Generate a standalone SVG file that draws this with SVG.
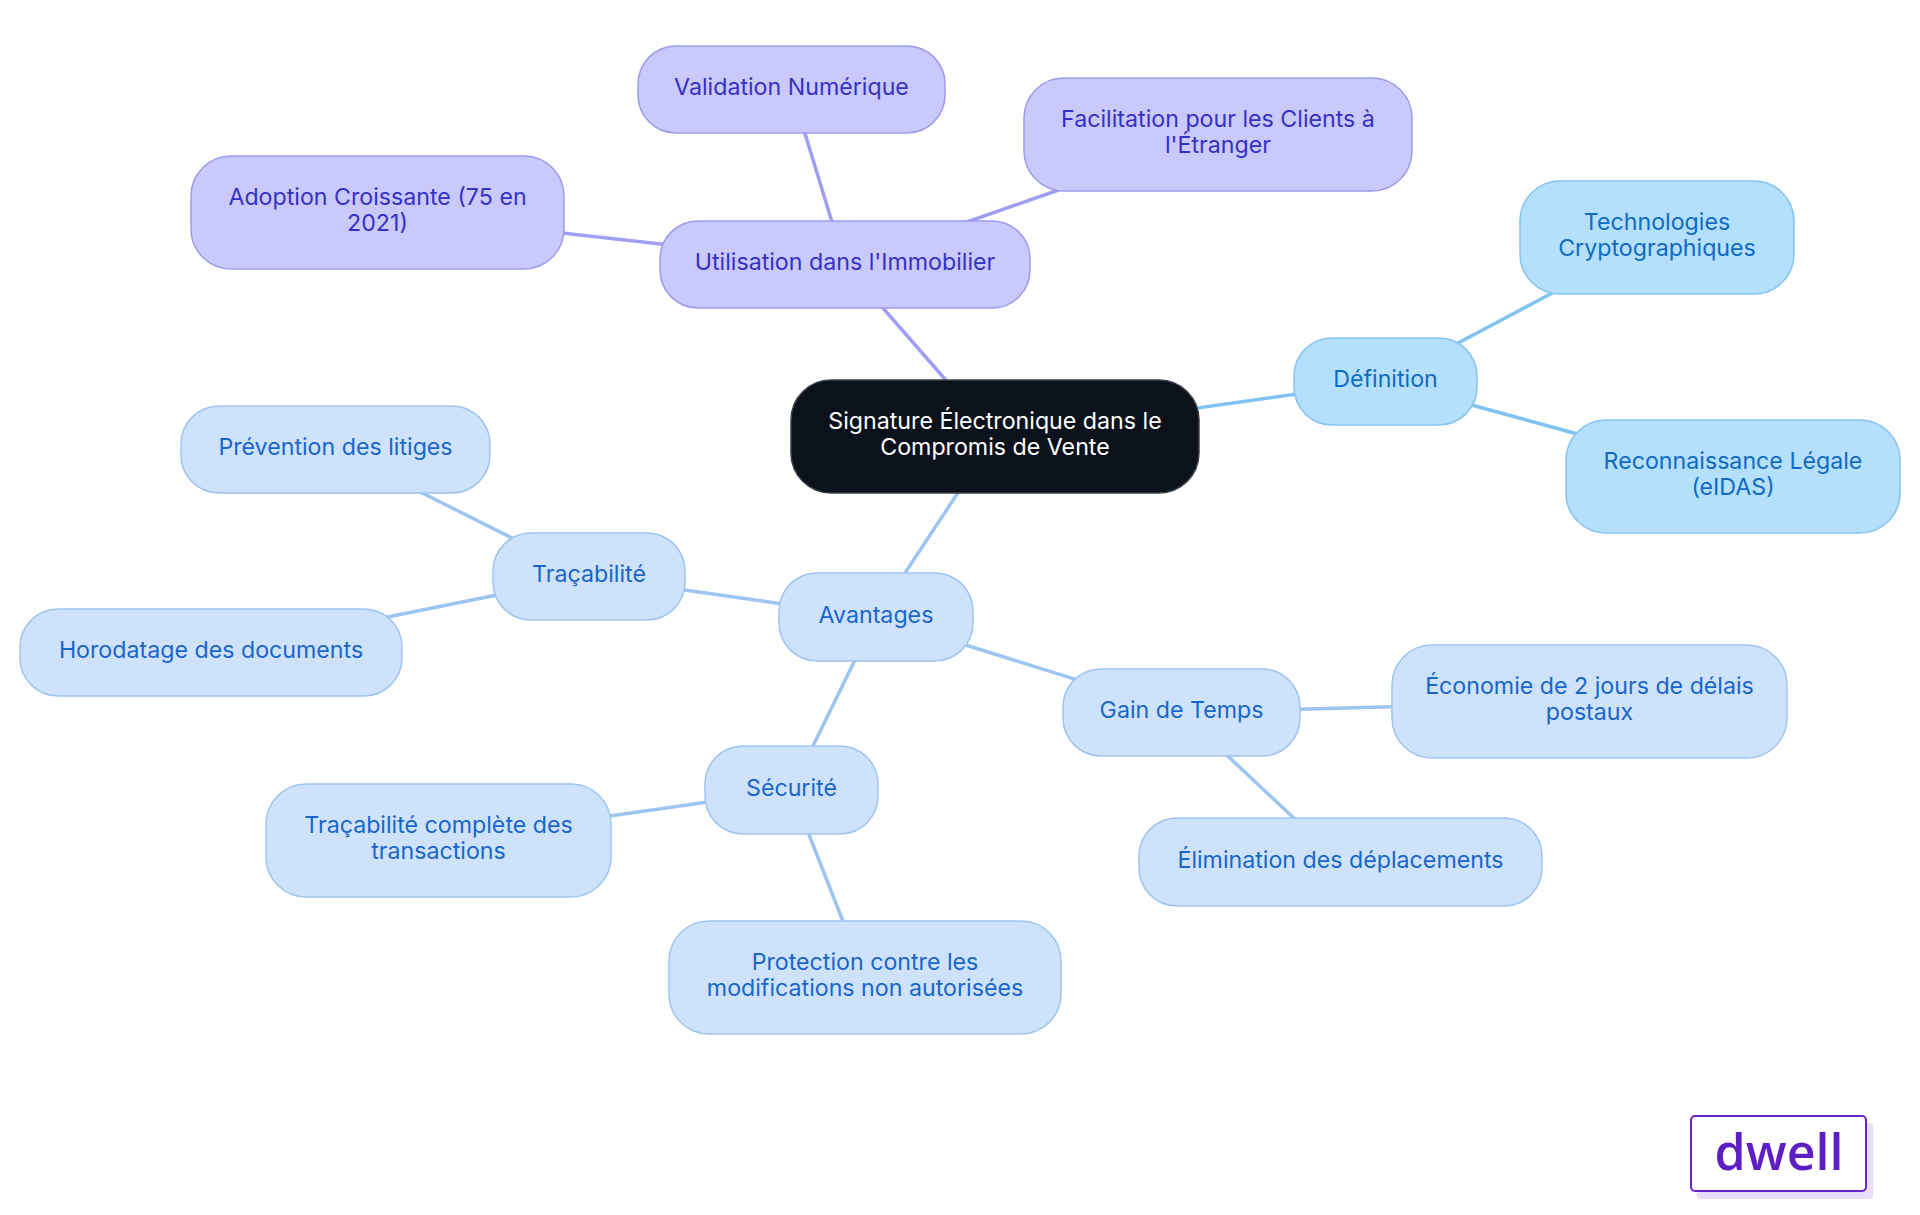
<svg xmlns="http://www.w3.org/2000/svg" width="1920" height="1215" viewBox="0 0 1920 1215">
<style>
text{font-family:Inter,"Liberation Sans",sans-serif;font-size:23.2px;text-anchor:middle}
.e1{stroke:#a19df2;stroke-width:3.5;fill:none;stroke-linecap:round}
.e2{stroke:#80c3f1;stroke-width:3.5;fill:none;stroke-linecap:round}
.e3{stroke:#9cc5f1;stroke-width:3.5;fill:none;stroke-linecap:round}
.root rect{fill:#0c121b;stroke:#3b4049;stroke-width:1.5}
.root text{fill:#ffffff}
.p rect{fill:#c9c9fc;stroke:#9e9bef;stroke-width:1.5}
.p text{fill:#3631c6}
.b rect{fill:#b4dffd;stroke:#84c4f1;stroke-width:1.5}
.b text{fill:#0f6bc4}
.a rect{fill:#cee3fb;stroke:#9ec5f1;stroke-width:1.5}
.a text{fill:#1966cc}
</style>
<rect width="1920" height="1215" fill="#ffffff"/>
<g id="connectors">
<line class="e1" x1="995" y1="436.5" x2="845" y2="264.5"/>
<line class="e1" x1="845" y1="264.5" x2="791.5" y2="89.5"/>
<line class="e1" x1="845" y1="264.5" x2="1218" y2="134.5"/>
<line class="e1" x1="845" y1="264.5" x2="377.5" y2="212.5"/>
<line class="e2" x1="995" y1="436.5" x2="1385.5" y2="381.5"/>
<line class="e2" x1="1385.5" y1="381.5" x2="1657" y2="237.5"/>
<line class="e2" x1="1385.5" y1="381.5" x2="1733" y2="476.5"/>
<line class="e3" x1="995" y1="436.5" x2="876" y2="617"/>
<line class="e3" x1="876" y1="617" x2="589" y2="576.5"/>
<line class="e3" x1="589" y1="576.5" x2="335.5" y2="449.5"/>
<line class="e3" x1="589" y1="576.5" x2="211" y2="652.5"/>
<line class="e3" x1="876" y1="617" x2="791.5" y2="790"/>
<line class="e3" x1="791.5" y1="790" x2="438.5" y2="840.5"/>
<line class="e3" x1="791.5" y1="790" x2="865" y2="977.5"/>
<line class="e3" x1="876" y1="617" x2="1181.5" y2="712.5"/>
<line class="e3" x1="1181.5" y1="712.5" x2="1589.5" y2="701.5"/>
<line class="e3" x1="1181.5" y1="712.5" x2="1340.5" y2="862"/>
</g>
<g id="root" class="root">
<rect x="791" y="380" width="408" height="113" rx="40"/>
<text x="995" y="428.5">Signature Électronique dans le</text>
<text x="995" y="454.5">Compromis de Vente</text>
</g>
<g id="utilisation" class="p">
<rect x="660" y="221" width="370" height="87" rx="38"/>
<text x="845" y="270">Utilisation dans l'Immobilier</text>
</g>
<g id="validation" class="p">
<rect x="638" y="46" width="307" height="87" rx="38"/>
<text x="791.5" y="95">Validation Numérique</text>
</g>
<g id="facilitation" class="p">
<rect x="1024" y="78" width="388" height="113" rx="40"/>
<text x="1218" y="127">Facilitation pour les Clients à</text>
<text x="1218" y="153">l'Étranger</text>
</g>
<g id="adoption" class="p">
<rect x="191" y="156" width="373" height="113" rx="40"/>
<text x="377.5" y="205">Adoption Croissante (75 en</text>
<text x="377.5" y="231">2021)</text>
</g>
<g id="definition" class="b">
<rect x="1294" y="338" width="183" height="87" rx="38"/>
<text x="1385.5" y="387">Définition</text>
</g>
<g id="technologies" class="b">
<rect x="1520" y="181" width="274" height="113" rx="40"/>
<text x="1657" y="230">Technologies</text>
<text x="1657" y="256">Cryptographiques</text>
</g>
<g id="reconnaissance" class="b">
<rect x="1566" y="420" width="334" height="113" rx="40"/>
<text x="1733" y="469">Reconnaissance Légale</text>
<text x="1733" y="495">(eIDAS)</text>
</g>
<g id="avantages" class="a">
<rect x="779" y="573" width="194" height="88" rx="38"/>
<text x="876" y="622.5">Avantages</text>
</g>
<g id="tracabilite" class="a">
<rect x="493" y="533" width="192" height="87" rx="38"/>
<text x="589" y="582">Traçabilité</text>
</g>
<g id="prevention" class="a">
<rect x="181" y="406" width="309" height="87" rx="38"/>
<text x="335.5" y="455">Prévention des litiges</text>
</g>
<g id="horodatage" class="a">
<rect x="20" y="609" width="382" height="87" rx="38"/>
<text x="211" y="658">Horodatage des documents</text>
</g>
<g id="securite" class="a">
<rect x="705" y="746" width="173" height="88" rx="38"/>
<text x="791.5" y="795.5">Sécurité</text>
</g>
<g id="tracabilite-complete" class="a">
<rect x="266" y="784" width="345" height="113" rx="40"/>
<text x="438.5" y="833">Traçabilité complète des</text>
<text x="438.5" y="859">transactions</text>
</g>
<g id="protection" class="a">
<rect x="669" y="921" width="392" height="113" rx="40"/>
<text x="865" y="970">Protection contre les</text>
<text x="865" y="996">modifications non autorisées</text>
</g>
<g id="gain" class="a">
<rect x="1063" y="669" width="237" height="87" rx="38"/>
<text x="1181.5" y="718">Gain de Temps</text>
</g>
<g id="economie" class="a">
<rect x="1392" y="645" width="395" height="113" rx="40"/>
<text x="1589.5" y="694">Économie de 2 jours de délais</text>
<text x="1589.5" y="720">postaux</text>
</g>
<g id="elimination" class="a">
<rect x="1139" y="818" width="403" height="88" rx="38"/>
<text x="1340.5" y="867.5">Élimination des déplacements</text>
</g>
<g id="logo">
<rect x="1697" y="1123" width="176" height="76" rx="4" fill="#e9def9"/>
<rect x="1691" y="1116" width="175" height="75" rx="4" fill="#ffffff" stroke="#6a22cc" stroke-width="2"/>
<text x="1779" y="1170" style="font-family:'Open Sans','Liberation Sans',sans-serif;font-size:50px;font-weight:600;fill:#5d1fc4" textLength="129" lengthAdjust="spacingAndGlyphs">dwell</text>
</g>
</svg>
